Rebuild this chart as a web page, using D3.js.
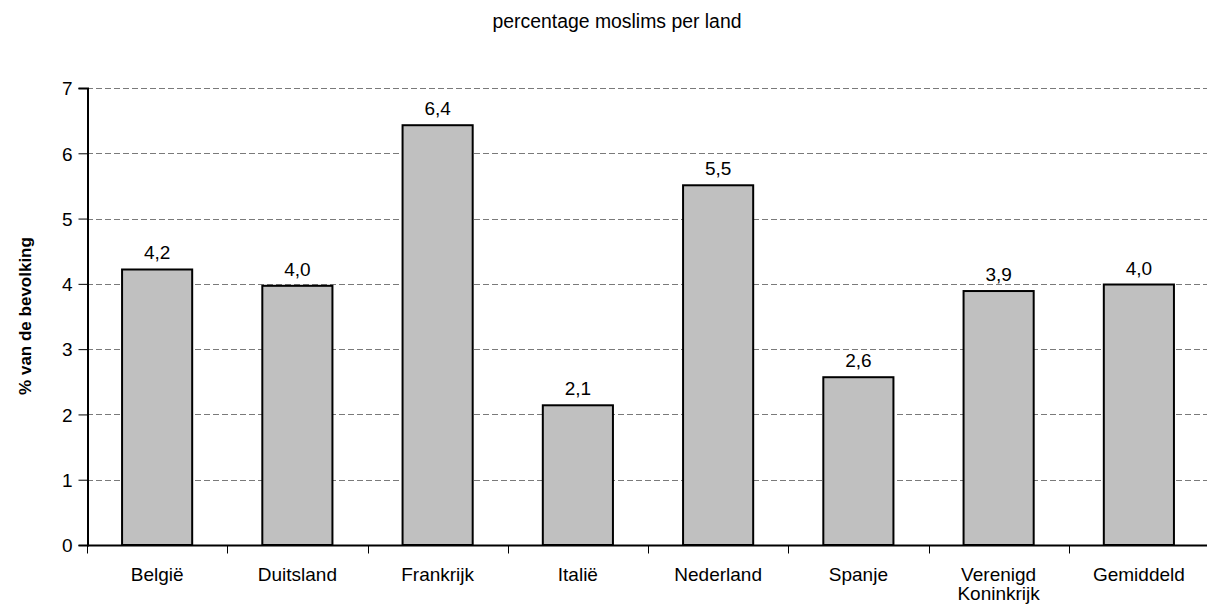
<!DOCTYPE html>
<html>
<head>
<meta charset="utf-8">
<script src="https://cdn.jsdelivr.net/npm/d3@7/dist/d3.min.js"></script>
<style>
  html, body { margin: 0; padding: 0; background: #fff; }
  text { font-family: "Liberation Sans", Arial, sans-serif; fill: #000; }
</style>
</head>
<body>
<svg id="chart" width="1207" height="605"></svg>
<script>
// Share of Muslims in the population, per country
const categories = ["België", "Duitsland", "Frankrijk", "Italië", "Nederland", "Spanje", "Verenigd\nKoninkrijk", "Gemiddeld"];
const values = [4.22, 3.97, 6.43, 2.14, 5.51, 2.57, 3.89, 3.99];
const yTicks = [0, 1, 2, 3, 4, 5, 6, 7];

const svg = d3.select("#chart");
const margin = { left: 87, right: -2, top: 88, bottom: 60 };
const W = 1207, H = 605;
const FS = "19px";

const x = d3.scaleBand()
  .domain(categories)
  .range([margin.left, W - margin.right])
  .paddingInner(0.5)
  .paddingOuter(0.25);

const y = d3.scaleLinear()
  .domain([0, 7])
  .range([H - margin.bottom, margin.top]);

const fmt = v => d3.format(".1f")(v).replace(".", ",");

// Title
svg.append("text")
  .attr("x", 617).attr("y", 28)
  .attr("text-anchor", "middle")
  .style("font-size", "19.4px")
  .text("percentage moslims per land");

// Dashed gridlines
svg.append("g")
  .selectAll("line")
  .data(yTicks.filter(d => d > 0))
  .join("line")
  .attr("x1", margin.left).attr("x2", W)
  .attr("y1", d => Math.round(y(d)) + 0.5)
  .attr("y2", d => Math.round(y(d)) + 0.5)
  .attr("stroke", "#7a7a7a")
  .attr("stroke-width", 1.2)
  .attr("stroke-dasharray", "6,3");

// Bars
svg.append("g")
  .selectAll("rect")
  .data(values)
  .join("rect")
  .attr("x", (d, i) => x(categories[i]))
  .attr("width", x.bandwidth())
  .attr("y", d => y(d))
  .attr("height", d => y(0) - y(d))
  .attr("fill", "#c0c0c0")
  .attr("stroke", "#000")
  .attr("stroke-width", 2);

// Value labels
svg.append("g")
  .selectAll("text")
  .data(values)
  .join("text")
  .attr("x", (d, i) => x(categories[i]) + x.bandwidth() / 2)
  .attr("y", d => y(d) - 10)
  .attr("text-anchor", "middle")
  .style("font-size", FS)
  .text(d => fmt(d));

// Y axis
const yAxis = d3.axisLeft(y).tickValues(yTicks).tickSize(9).tickFormat(d3.format("d"));
const gy = svg.append("g")
  .attr("transform", `translate(${margin.left + 0.5},0)`)
  .call(yAxis);
gy.select(".domain").attr("stroke", "#000").attr("stroke-width", 2);
gy.selectAll(".tick line").attr("stroke", "#000");
gy.selectAll(".tick text").style("font-size", FS).attr("x", -15).attr("dy", "0.36em");

// X axis: baseline with ticks between categories
const baseY = Math.round(y(0)) + 0.5;
svg.append("line")
  .attr("x1", margin.left).attr("x2", W)
  .attr("y1", baseY).attr("y2", baseY)
  .attr("stroke", "#000").attr("stroke-width", 2);

const step = x.step();
const bounds = d3.range(categories.length + 1).map(i => x(categories[0]) - x.paddingOuter() * step + i * step);
svg.append("g")
  .selectAll("line")
  .data(bounds)
  .join("line")
  .attr("x1", d => Math.round(d) + 0.5).attr("x2", d => Math.round(d) + 0.5)
  .attr("y1", baseY).attr("y2", baseY + 8)
  .attr("stroke", "#000");

// Category labels (wrapped on newline)
const lab = svg.append("g")
  .selectAll("text")
  .data(categories)
  .join("text")
  .attr("x", d => x(d) + x.bandwidth() / 2)
  .attr("y", baseY + 35)
  .attr("text-anchor", "middle")
  .style("font-size", FS);
lab.each(function(d) {
  const t = d3.select(this);
  d.split("\n").forEach((line, i) => {
    t.append("tspan")
      .attr("x", t.attr("x"))
      .attr("dy", i === 0 ? 0 : "1.02em")
      .text(line);
  });
});

// Y axis title
svg.append("text")
  .attr("transform", `translate(31,316) rotate(-90)`)
  .attr("text-anchor", "middle")
  .style("font-size", "17px")
  .style("font-weight", "bold")
  .text("% van de bevolking");
</script>
</body>
</html>
